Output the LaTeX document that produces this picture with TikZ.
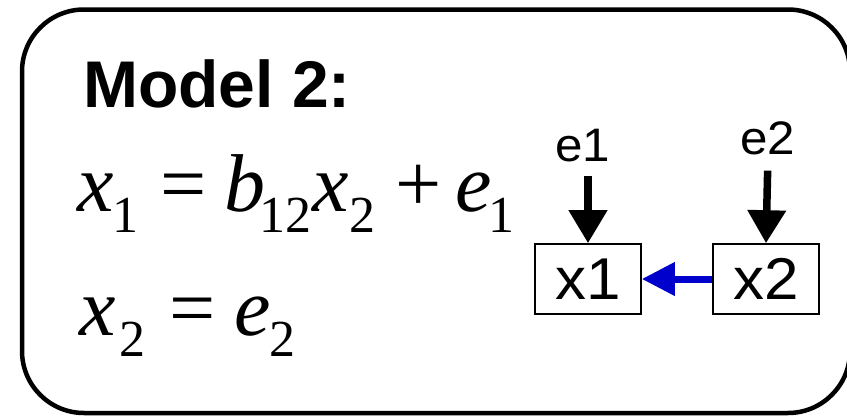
\documentclass[tikz,border=0pt]{standalone}
\usepackage{fontspec}
\setmainfont{Liberation Sans}
\newfontfamily\tms{Liberation Serif}
\usetikzlibrary{arrows.meta}
\newcommand\fsz[1]{\fontsize{#1}{#1}\selectfont}
\newcommand\pc[2]{\makebox[0pt][l]{\hspace*{#1pt}#2}}
\newcommand\mi[1]{{\tms\itshape\fsz{82}#1}}
\newcommand\mr[1]{{\tms\fsz{82}#1}}
\newcommand\ms[1]{\raisebox{-21pt}{\tms\fsz{52}#1}}
\newcommand\wide[1]{\scalebox{1.05}[1]{#1}}
\tikzset{
  frame/.style={line width=4.5pt, rounded corners=62pt},
  varbox/.style={draw, line width=1.6pt, minimum width=106pt, minimum height=70pt, inner sep=0pt, font=\fsz{59}},
  errlabel/.style={anchor=base, inner sep=0pt, font=\fsz{47}},
  blackarr/.style={line width=7.5pt, -{Triangle[length=33pt,width=37pt]}},
  bluearr/.style={line width=7pt, color=eqblue, -{Triangle[length=33pt,width=32pt]}},
}
\definecolor{eqblue}{RGB}{0,0,204}
\begin{document}
\begin{tikzpicture}[x=1pt,y=1pt]
\useasboundingbox (0,0) rectangle (847,-418);
\fill[white] (0,0) rectangle (847,-418);
\draw[frame] (22,-9.5) rectangle (850,-413);
\node[anchor=base west, inner sep=0pt] (title) at (83,-107) {\fsz{66}\bfseries Model 2:};
\node[anchor=base west, inner sep=0pt] (eq1) at (0,-211)
  {\pc{77}{\mi{x}}\pc{112}{\ms{1}}\pc{160}{\mr{=}}\pc{224}{\mi{b}}\pc{259}{\ms{12}}\pc{312}{\mi{x}}\pc{349}{\ms{2}}\pc{395}{\mr{+}}\pc{455}{\mi{e}}\pc{488}{\ms{1}}};
\node[anchor=base west, inner sep=0pt] (eq2) at (0,-335)
  {\pc{79}{\mi{x}}\pc{118.5}{\ms{2}}\pc{169}{\mr{=}}\pc{234}{\mi{e}}\pc{268.5}{\ms{2}}};
\node[varbox] (x1) at (588,-279) {\wide{x1}};
\node[varbox] (x2) at (766,-279) {\wide{x2}};
\node[errlabel] (e1) at (583,-161) {\wide{e1}};
\node[errlabel] (e2) at (768,-154) {\wide{e2}};
\draw[blackarr, shorten <=14pt] (x1.north |- e1.south) -- (x1.north);
\draw[blackarr, shorten <=16pt] (e2.south) -- (x2.north);
\draw[bluearr] (x2.west) -- (x1.east);
\end{tikzpicture}
\end{document}
